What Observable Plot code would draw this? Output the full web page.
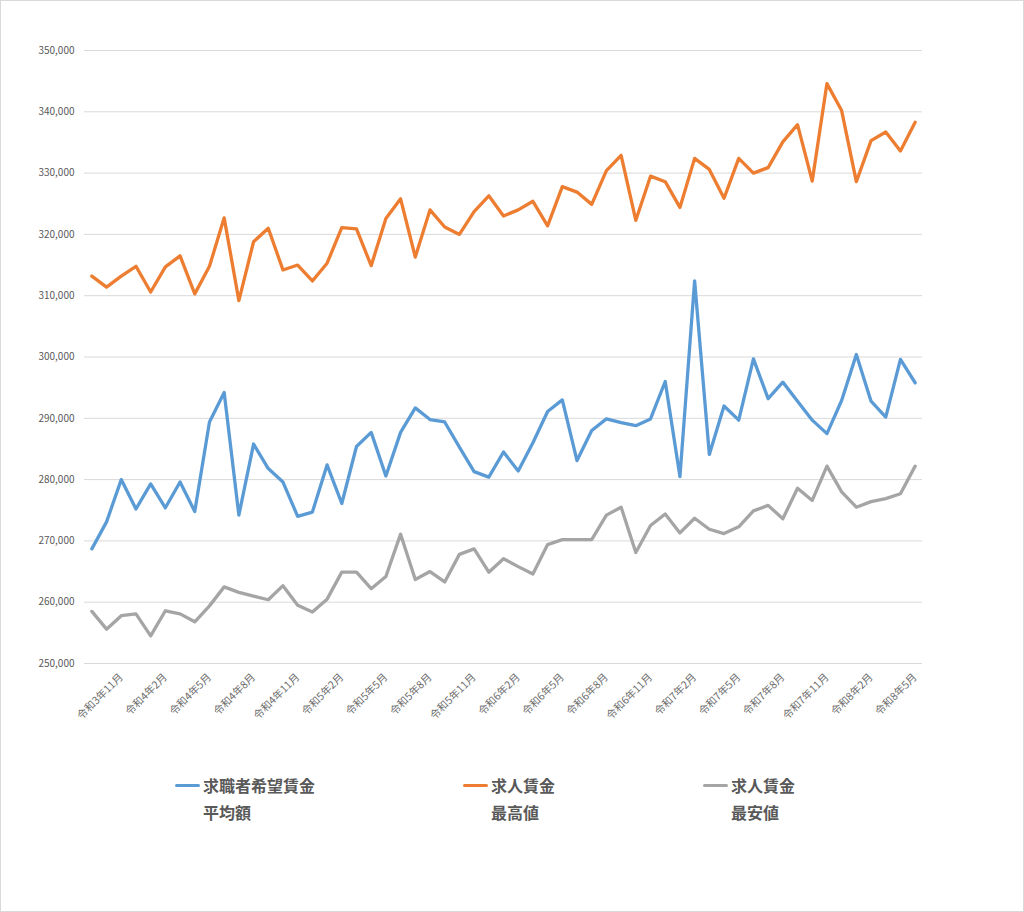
<!DOCTYPE html>
<html><head><meta charset="utf-8">
<script src="https://cdn.jsdelivr.net/npm/d3@7"></script>
<script src="https://cdn.jsdelivr.net/npm/@observablehq/plot@0.6"></script>
<style>
body{margin:0;background:#fff;}
#wrap{position:relative;width:1024px;height:912px;overflow:hidden;font-family:"Noto Sans CJK JP","Noto Sans",sans-serif;background:#fff;}
#border{position:absolute;left:0;top:0;width:1024px;height:912px;box-sizing:border-box;border:1px solid #d9d9d9;pointer-events:none;}
#chart{position:absolute;left:0;top:0;}
.lg{position:absolute;top:772px;color:#595959;font-weight:700;font-size:16px;line-height:27px;white-space:pre;}
.sw{position:absolute;left:-28px;top:12px;width:25px;height:3px;border-radius:1.5px;}
</style></head><body>
<div id="wrap"><div id="chart"></div><div id="legend"></div><div id="border"></div></div>
<script>
const categories = [
  "令和3年9月","令和3年10月","令和3年11月","令和3年12月",
  "令和4年1月","令和4年2月","令和4年3月","令和4年4月","令和4年5月","令和4年6月","令和4年7月","令和4年8月","令和4年9月","令和4年10月","令和4年11月","令和4年12月",
  "令和5年1月","令和5年2月","令和5年3月","令和5年4月","令和5年5月","令和5年6月","令和5年7月","令和5年8月","令和5年9月","令和5年10月","令和5年11月","令和5年12月",
  "令和6年1月","令和6年2月","令和6年3月","令和6年4月","令和6年5月","令和6年6月","令和6年7月","令和6年8月","令和6年9月","令和6年10月","令和6年11月","令和6年12月",
  "令和7年1月","令和7年2月","令和7年3月","令和7年4月","令和7年5月","令和7年6月","令和7年7月","令和7年8月","令和7年9月","令和7年10月","令和7年11月","令和7年12月",
  "令和8年1月","令和8年2月","令和8年3月","令和8年4月","令和8年5月"
];
const tickLabels = [
  "令和3年11月","令和4年2月","令和4年5月","令和4年8月","令和4年11月","令和5年2月","令和5年5月",
  "令和5年8月","令和5年11月","令和6年2月","令和6年5月","令和6年8月","令和6年11月","令和7年2月",
  "令和7年5月","令和7年8月","令和7年11月","令和8年2月","令和8年5月"
];
const yTicks = [250000,260000,270000,280000,290000,300000,310000,320000,330000,340000,350000];

const avgWanted = [
  268700,273100,280000,275200,279300,275400,279600,274800,289400,294200,
  274200,285800,281800,279600,274000,274700,282400,276100,285400,287700,
  280600,287700,291700,289800,289400,285300,281300,280400,284500,281400,
  286000,291100,293000,283100,288000,289900,289300,288800,289900,296000,
  280500,312400,284100,292000,289700,299700,293200,295900,292800,289700,
  287500,292900,300400,292800,290200,299600,295800
];
const maxOffer = [
  313200,311400,313200,314800,310600,314700,316500,310300,314800,322700,
  309200,318800,321000,314200,315000,312400,315300,321100,320900,314900,
  322600,325800,316300,324000,321200,320000,323700,326300,323000,324000,
  325400,321400,327800,326900,324900,330400,332900,322300,329500,328600,
  324400,332400,330600,325900,332400,330000,330900,335100,337900,328700,
  344600,340200,328600,335300,336700,333600,338300
];
const minOffer = [
  258500,255600,257800,258100,254500,258600,258100,256800,259400,262500,
  261600,261000,260400,262700,259500,258400,260500,264900,264900,262200,
  264200,271100,263700,265000,263300,267800,268700,264900,267100,265800,
  264600,269400,270200,270200,270200,274200,275500,268100,272500,274400,
  271300,273700,271900,271200,272300,274900,275800,273600,278600,276600,
  282200,278000,275500,276400,276900,277700,282200
];
const seriesNames = ["求職者希望賃金\n平均額","求人賃金\n最高値","求人賃金\n最安値"];
const seriesColors = ["#5B9BD5","#ED7D31","#A5A5A5"];
const seriesValues = [avgWanted, maxOffer, minOffer];

const font = '"Noto Sans CJK JP","Noto Sans",sans-serif';
const lines = seriesValues.map((vals, k) =>
  Plot.lineY(categories.map((c, i) => ({month: c, value: vals[i]})), {
    x: "month", y: "value", stroke: seriesColors[k], strokeWidth: 3.3,
    strokeLinejoin: "round", strokeLinecap: "round"
  })
);

const chart = Plot.plot({
  width: 1024, height: 750,
  marginLeft: 84, marginRight: 102, marginTop: 50, marginBottom: 87,
  style: {fontFamily: font, fontSize: "10px", color: "#595959", background: "transparent"},
  x: {type: "point", domain: categories, padding: 0.5},
  y: {domain: [250000, 350000]},
  marks: [
    Plot.gridY(yTicks, {stroke: "#d9d9d9", strokeOpacity: 1, strokeWidth: 1}),
    Plot.axisY(yTicks, {tickSize: 0, tickPadding: 10, tickFormat: d3.format(","), label: null, fill: "#595959"}),
    Plot.axisX(tickLabels, {tickSize: 0, tickRotate: -45, tickPadding: 12, label: null, fill: "#6b6b6b", fontSize: 10.5}),
    ...lines
  ]
});
document.getElementById("chart").appendChild(chart);

const legendX = [203, 491, 731];
const legend = document.getElementById("legend");
seriesNames.forEach((name, k) => {
  const d = document.createElement("div");
  d.className = "lg";
  d.style.left = legendX[k] + "px";
  d.textContent = name;
  const sw = document.createElement("span");
  sw.className = "sw";
  sw.style.background = seriesColors[k];
  d.appendChild(sw);
  legend.appendChild(d);
});
</script>
</body></html>
